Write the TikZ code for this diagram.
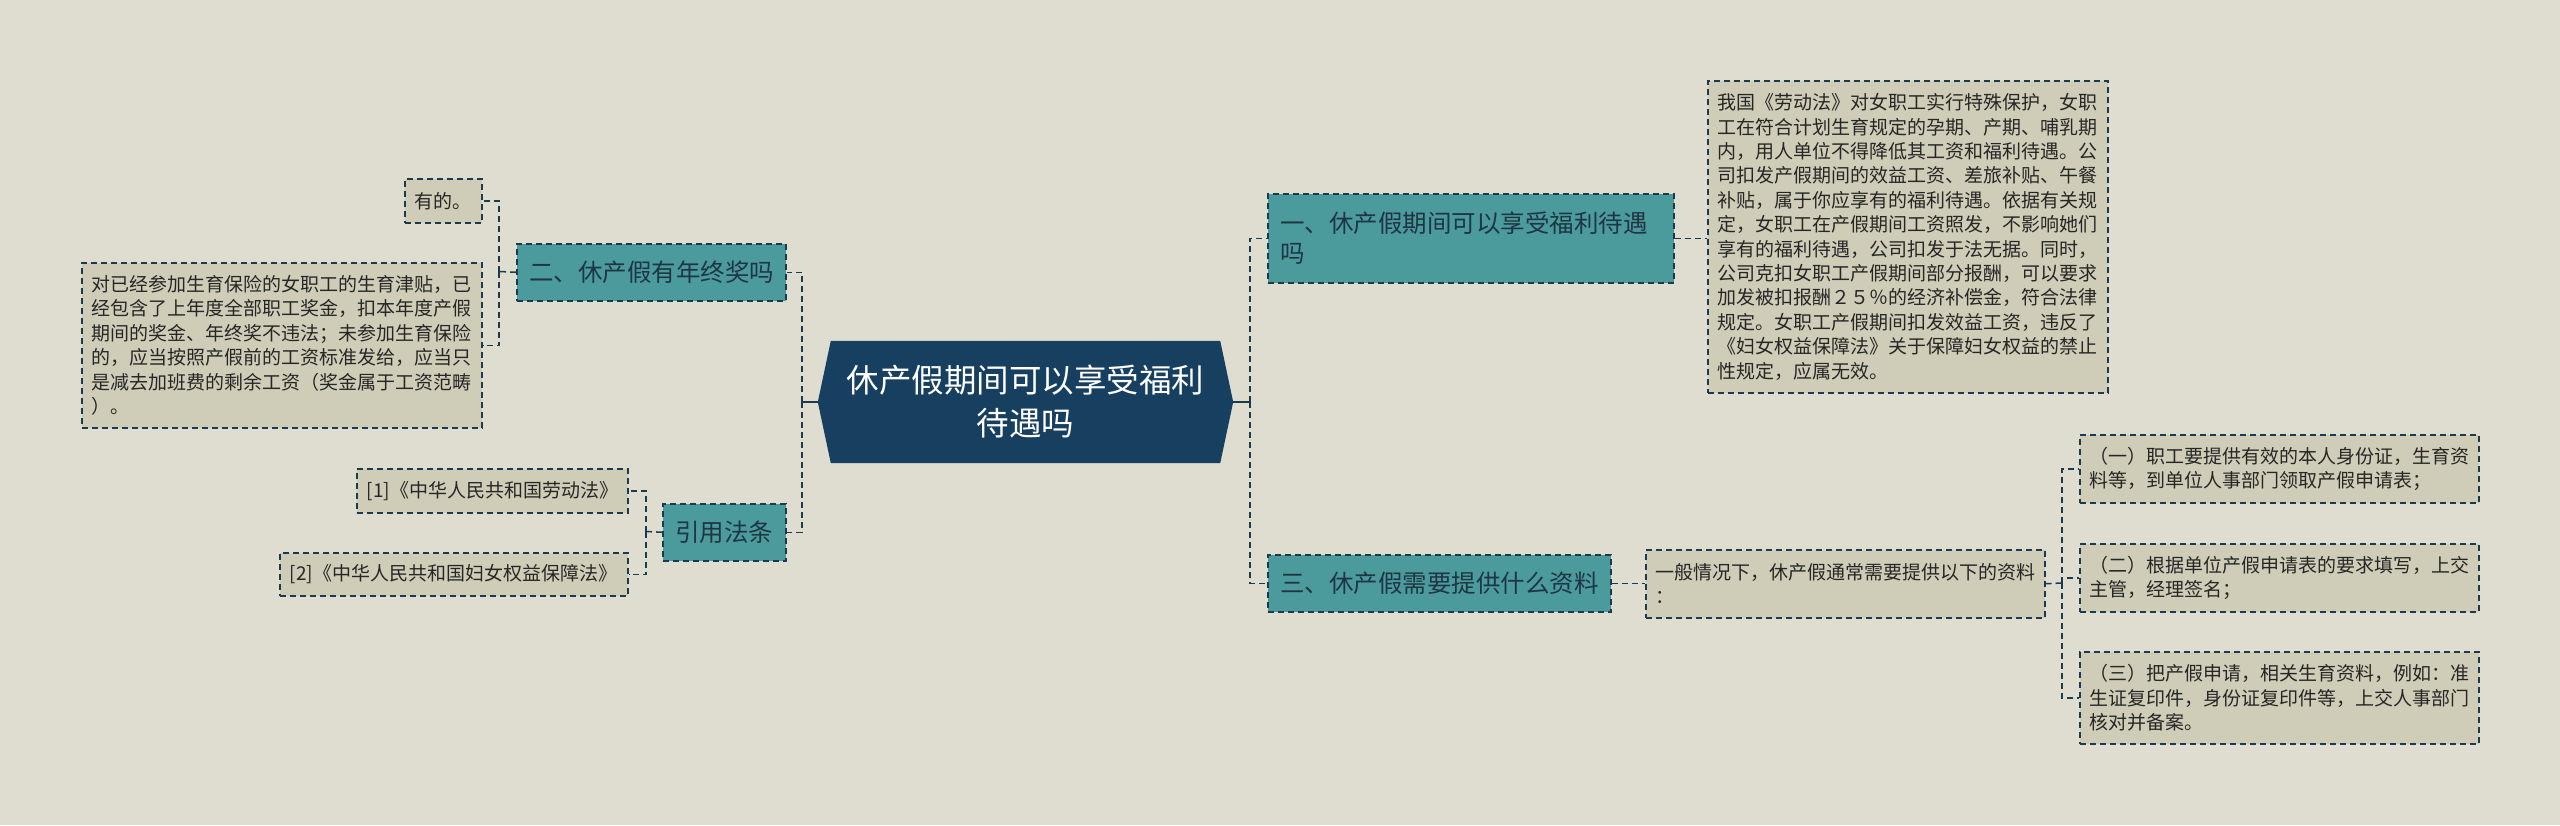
\documentclass[tikz,border=0pt]{standalone}
\usepackage{fontspec}
\setmainfont{Noto Sans CJK SC}
\usetikzlibrary{calc}
\pgfdeclarelayer{bg}
\pgfsetlayers{bg,main}
\definecolor{bgcol}{HTML}{DFDDD0}
\definecolor{leafcol}{HTML}{CFCDB7}
\definecolor{topiccol}{HTML}{4C9B9C}
\definecolor{hubcol}{HTML}{173F5F}
\definecolor{linecol}{HTML}{1C3A4E}
\definecolor{leaftext}{HTML}{262626}
\definecolor{topictext}{HTML}{1E3544}
\begin{document}
\begin{tikzpicture}[x=1pt,y=-1pt,
  boxbase/.style={draw=linecol, dash pattern=on 6pt off 4pt, line width=1.5pt,
    inner xsep=10pt, inner ysep=0pt, anchor=north west, align=left},
  leaf/.style={boxbase, fill=leafcol, text=leaftext, font=\fontsize{19}{24.4}\selectfont},
  topic/.style={boxbase, fill=topiccol, text=topictext, inner xsep=12.5pt, font=\fontsize{24.5}{30}\selectfont},
  hubstyle/.style={inner sep=0pt, minimum width=415pt, minimum height=122pt, align=center,
    text=white, font=\fontsize{32.5}{43}\selectfont},
  conn/.style={draw=linecol, line width=1.5pt, dash pattern=on 6pt off 4pt},
  hubconn/.style={draw=linecol, line width=2pt}
]
\useasboundingbox (0,0) rectangle (2560,825);
\begin{pgfonlayer}{bg}
\fill[bgcol] (0,0) rectangle (2560,825);
\end{pgfonlayer}

% central node
\node[hubstyle] (hub) at (1025.5,402) {休产假期间可以享受福利\\待遇吗};
\begin{pgfonlayer}{bg}
\fill[hubcol] (hub.west) -- ($(hub.north west)+(13,0)$) -- ($(hub.north east)+(-13,0)$)
  -- (hub.east) -- ($(hub.south east)+(-13,0)$) -- ($(hub.south west)+(13,0)$) -- cycle;
\end{pgfonlayer}

% topics
\node[topic, minimum width=406pt, minimum height=89pt, text width=381pt] (b1) at (1267,193)
  {一、休产假期间可以享受福利待遇\\吗};
\node[topic, minimum width=269pt, minimum height=57pt, text width=244pt] (b2) at (516,243)
  {二、休产假有年终奖吗};
\node[topic, minimum width=343pt, minimum height=57pt, text width=318pt] (b3) at (1267,554)
  {三、休产假需要提供什么资料};
\node[topic, minimum width=123pt, minimum height=57pt, align=center, inner xsep=0pt] (law) at (662,503)
  {引用法条};

% leaves
\node[leaf, minimum width=400pt, minimum height=312pt, text width=380pt] (l1) at (1707,80)
  {我国《劳动法》对女职工实行特殊保护，女职\\
   工在符合计划生育规定的孕期、产期、哺乳期\\
   内，用人单位不得降低其工资和福利待遇。公\\
   司扣发产假期间的效益工资、差旅补贴、午餐\\
   补贴，属于你应享有的福利待遇。依据有关规\\
   定，女职工在产假期间工资照发，不影响她们\\
   享有的福利待遇，公司扣发于法无据。同时，\\
   公司克扣女职工产假期间部分报酬，可以要求\\
   加发被扣报酬２５％的经济补偿金，符合法律\\
   规定。女职工产假期间扣发效益工资，违反了\\
   《妇女权益保障法》关于保障妇女权益的禁止\\
   性规定，应属无效。};
\node[leaf, minimum width=77pt, minimum height=44pt, text width=57pt] (l2) at (404,178) {有的。};
\node[leaf, minimum width=400pt, minimum height=165pt, text width=380pt] (l3) at (81,262)
  {对已经参加生育保险的女职工的生育津贴，已\\
   经包含了上年度全部职工奖金，扣本年度产假\\
   期间的奖金、年终奖不违法；未参加生育保险\\
   的，应当按照产假前的工资标准发给，应当只\\
   是减去加班费的剩余工资（奖金属于工资范畴\\
   ）。};
\node[leaf, minimum width=271pt, minimum height=44pt, text width=251pt] (l4) at (356,468)
  {[1]《中华人民共和国劳动法》};
\node[leaf, minimum width=348pt, minimum height=43pt, text width=328pt] (l5) at (279,552)
  {[2]《中华人民共和国妇女权益保障法》};
\node[leaf, minimum width=399pt, minimum height=68pt, text width=379pt] (l6) at (1645,549)
  {一般情况下，休产假通常需要提供以下的资料\\：};
\node[leaf, minimum width=399pt, minimum height=68pt, text width=379pt] (l7) at (2079,434)
  {（一）职工要提供有效的本人身份证，生育资\\料等，到单位人事部门领取产假申请表；};
\node[leaf, minimum width=399pt, minimum height=68pt, text width=379pt] (l8) at (2079,543)
  {（二）根据单位产假申请表的要求填写，上交\\主管，经理签名；};
\node[leaf, minimum width=399pt, minimum height=92pt, text width=379pt] (l9) at (2079,651)
  {（三）把产假申请，相关生育资料，例如：准\\生证复印件，身份证复印件等，上交人事部门\\核对并备案。};

% junction coordinates
\coordinate (lt) at (802,402);
\coordinate (rt) at (1250,402);
\coordinate (t2) at (499,271.5);
\coordinate (t4) at (646,531.5);
\coordinate (t6) at (2062,583);

% connectors
\draw[hubconn] (hub.west) -- (lt);
\draw[hubconn] (hub.east) -- (rt);
\draw[conn] (lt) |- (b2.east);
\draw[conn] (lt) |- (law.east);
\draw[conn] (rt) |- (b1.west);
\draw[conn] (rt) |- (b3.west);
\draw[conn] (b2.west) -- (t2);
\draw[conn] (t2) |- (l2.east);
\draw[conn] (t2) |- (l3.east);
\draw[conn] (law.west) -- (t4);
\draw[conn] (t4) |- (l4.east);
\draw[conn] (t4) |- (l5.east);
\draw[conn] (b1.east) -- (b1.east -| l1.west);
\draw[conn] (b3.east) -- (b3.east -| l6.west);
\draw[conn] (l6.east) -- (t6);
\draw[conn] (t6) |- (l7.west);
\draw[conn] (t6) |- (l8.west);
\draw[conn] (t6) |- (l9.west);
\end{tikzpicture}
\end{document}
